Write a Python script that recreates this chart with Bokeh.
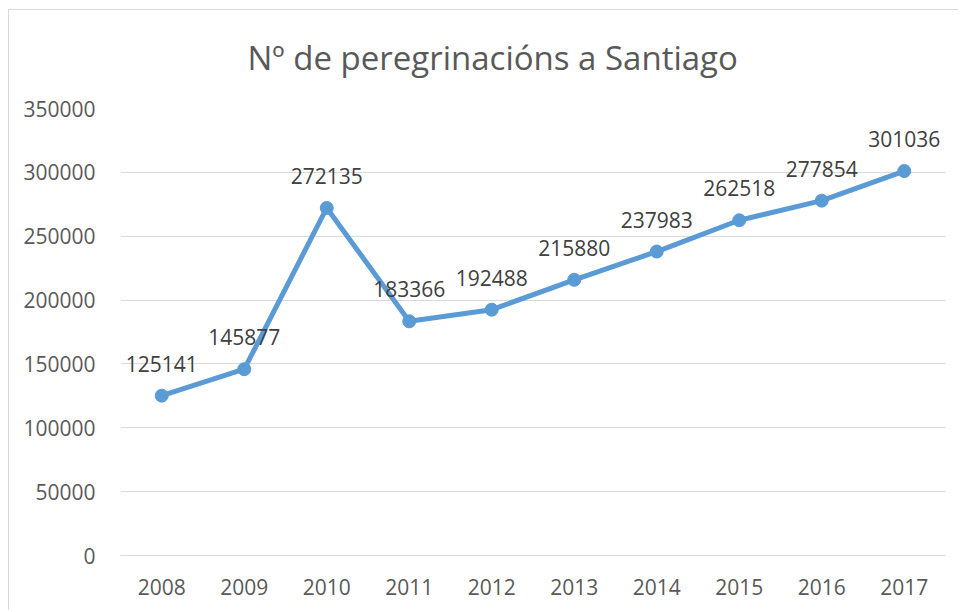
from bokeh.plotting import figure
from bokeh.models import ColumnDataSource, FixedTicker, BasicTickFormatter, Title
from bokeh.core.properties import value
from bokeh.embed import file_html
from bokeh.resources import INLINE

years = ["2008", "2009", "2010", "2011", "2012", "2013", "2014", "2015", "2016", "2017"]
pilgrims = [125141, 145877, 272135, 183366, 192488, 215880, 237983, 262518, 277854, 301036]
y_ticks = [0, 50000, 100000, 150000, 200000, 250000, 300000, 350000]
title_text = "Nº de peregrinacións a Santiago"

FONT = "Open Sans"
BLUE = "#5B9BD5"
GRID = "#D9D9D9"

src = ColumnDataSource(dict(x=years, y=pilgrims, lab=[str(v) for v in pilgrims]))

p = figure(x_range=years, y_range=(0, 350000), width=958, height=610,
           output_backend="svg", toolbar_location=None,
           min_border_left=120, min_border_right=13, min_border_top=108, min_border_bottom=55)
p.x_range.range_padding = 0
p.outline_line_color = None
p.background_fill_color = "white"
p.border_fill_color = None
p.styles = {"background": "linear-gradient(#D9D9D9, #D9D9D9) 8px 9px / 100% 1px no-repeat, "
                          "linear-gradient(#D9D9D9, #D9D9D9) 8px 9px / 1px 100% no-repeat, white"}

t = Title(text=title_text, align="left", offset=127, standoff=58,
          text_font=FONT, text_font_size="33px", text_color="#595959",
          text_font_style="normal")
p.add_layout(t, "above")

p.xgrid.grid_line_color = None
p.ygrid.grid_line_color = GRID
p.ygrid.grid_line_width = 1

p.yaxis.ticker = FixedTicker(ticks=y_ticks)
p.yaxis.formatter = BasicTickFormatter(use_scientific=False)
for ax in (p.xaxis[0], p.yaxis[0]):
    ax.axis_line_color = None
    ax.major_tick_line_color = None
    ax.minor_tick_line_color = None
    ax.major_label_text_font = FONT
    ax.major_label_text_font_size = "21px"
    ax.major_label_text_color = "#595959"
p.xaxis.axis_line_color = GRID
p.yaxis.major_label_standoff = 19
p.xaxis.major_label_standoff = 17

p.line("x", "y", source=src, line_color=BLUE, line_width=5)
p.scatter("x", "y", source=src, size=13, fill_color=BLUE, line_color=BLUE)
p.text("x", "y", text="lab", source=src, text_font=value(FONT), text_font_size="21px",
       text_color="#404040", text_align="center", text_baseline="middle", y_offset=-32)

open("out.html", "w").write(file_html(p, INLINE))
